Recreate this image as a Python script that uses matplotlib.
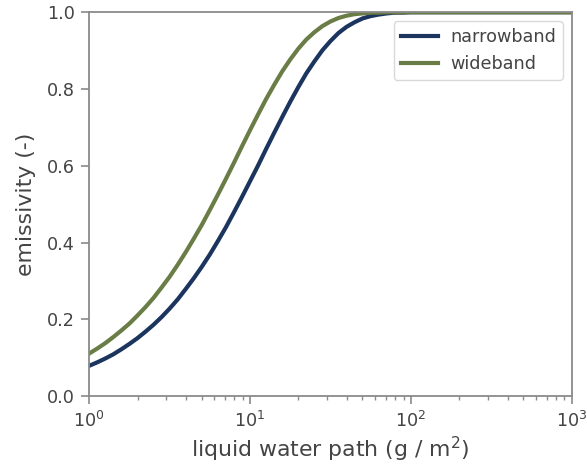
import matplotlib
matplotlib.use("Agg")
import matplotlib.pyplot as plt

# liquid water path (g/m2), 20 samples per decade, and emissivity
lwp = [1.000, 1.122, 1.259, 1.413, 1.585, 1.778, 1.995, 2.239, 2.512, 2.818,
       3.162, 3.548, 3.981, 4.467, 5.012, 5.623, 6.310, 7.079, 7.943, 8.913,
       10.00, 11.22, 12.59, 14.13, 15.85, 17.78, 19.95, 22.39, 25.12, 28.18,
       31.62, 35.48, 39.81, 44.67, 50.12, 56.23, 63.10, 70.79, 79.43, 89.13,
       100.0, 1000.0]
narrowband = [0.079, 0.088, 0.098, 0.109, 0.122, 0.136, 0.151, 0.168, 0.186, 0.206,
              0.228, 0.252, 0.279, 0.307, 0.337, 0.369, 0.404, 0.440, 0.479, 0.519,
              0.560, 0.601, 0.644, 0.686, 0.727, 0.767, 0.805, 0.841, 0.872, 0.901,
              0.925, 0.946, 0.962, 0.974, 0.984, 0.990, 0.994, 0.997, 0.999, 0.999,
              1.000, 1.000]
wideband = [0.111, 0.124, 0.138, 0.154, 0.171, 0.189, 0.210, 0.232, 0.256, 0.283,
            0.311, 0.342, 0.375, 0.410, 0.446, 0.485, 0.525, 0.566, 0.608, 0.651,
            0.693, 0.734, 0.774, 0.811, 0.846, 0.877, 0.905, 0.929, 0.948, 0.964,
            0.976, 0.985, 0.991, 0.995, 0.997, 0.999, 0.999, 1.000, 1.000, 1.000,
            1.000, 1.000]

txt = '#444444'
grey = '#8a8a8a'

fig = plt.figure(figsize=(5.87, 4.71), dpi=100)
ax = fig.add_axes([0.152, 0.159, 0.822, 0.815])

ax.plot(lwp, narrowband, color='#1c355e', lw=3, label='narrowband')
ax.plot(lwp, wideband, color='#6b7d46', lw=3, label='wideband')

ax.set_xscale('log')
ax.set_xlim(1, 1000)
ax.set_ylim(0, 1)
ax.set_yticks([0, 0.2, 0.4, 0.6, 0.8, 1.0])

for s in ax.spines.values():
    s.set_color(grey)
    s.set_linewidth(1.3)
ax.tick_params(which='both', colors=grey, labelcolor=txt, labelsize=12.7, pad=5)
ax.tick_params(which='major', length=5.5, width=1.2)
ax.tick_params(which='minor', length=3, width=1.0)

ax.set_xlabel('liquid water path (g / m$^2$)', fontsize=15.8, color=txt, labelpad=3)
ax.set_ylabel('emissivity (-)', fontsize=15.8, color=txt, labelpad=8)

leg = ax.legend(loc='upper right', fontsize=12.7, labelcolor=txt,
                handlelength=2.1, handletextpad=0.7, borderaxespad=0.5)
leg.get_frame().set_edgecolor('#d0d0d0')

fig.savefig('out.png', dpi=100)
